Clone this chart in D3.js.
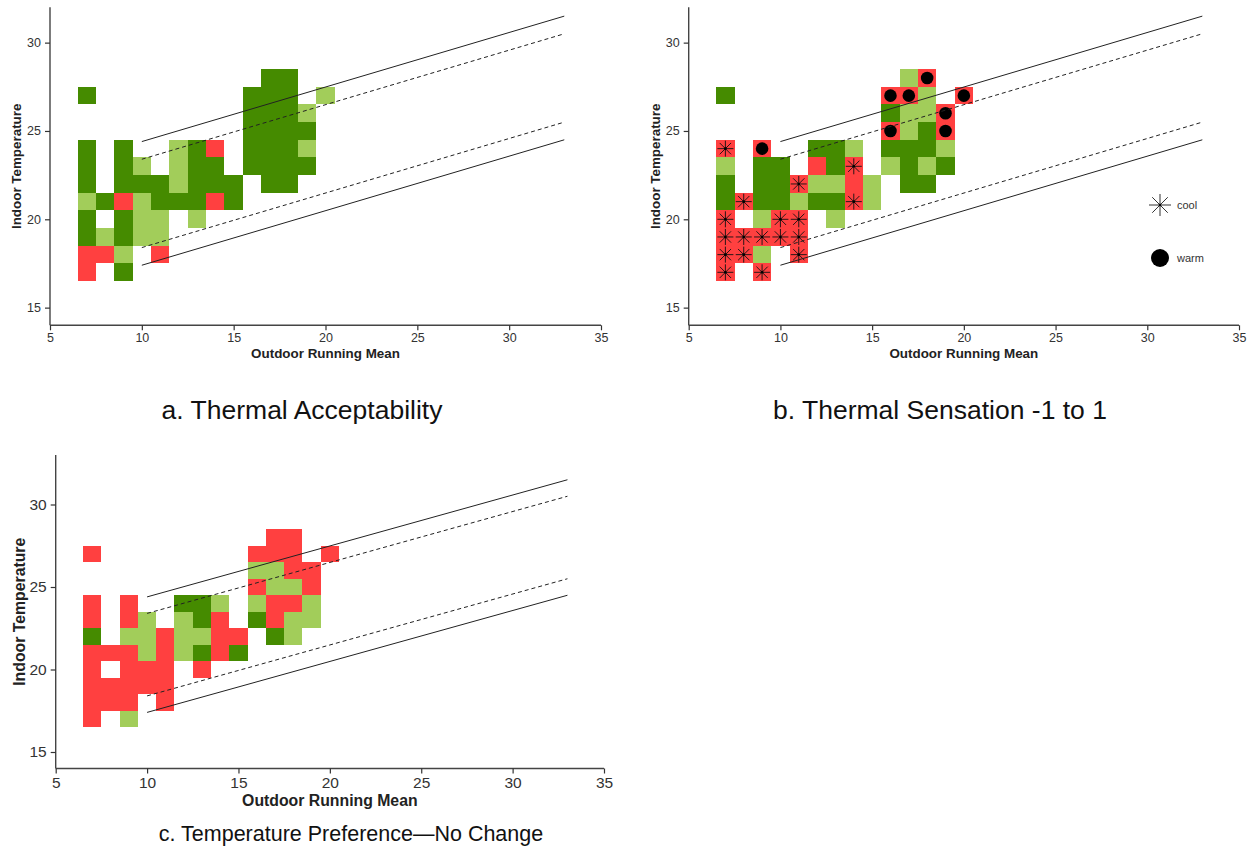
<!DOCTYPE html>
<html>
<head>
<meta charset="utf-8">
<script src="https://cdn.jsdelivr.net/npm/d3@7"></script>
<style>
  html, body { margin: 0; padding: 0; background: #fff; }
  svg { display: block; font-family: "Liberation Sans", Arial, sans-serif; }
</style>
</head>
<body>
<svg id="chart" width="1254" height="852"></svg>
<script>
// ---------- DATA ----------
const xCategories = [7, 8, 9, 10, 11, 12, 13, 14, 15, 16, 17, 18, 19, 20];   // Outdoor running mean bins
const yCategories = [28, 27, 26, 25, 24, 23, 22, 21, 20, 19, 18, 17];        // Indoor temperature bins (top to bottom)
const xTicks = [5, 10, 15, 20, 25, 30, 35];
const yTicks = [15, 20, 25, 30];

// D = mostly acceptable (dark green), L = partly (light green), R = not (red), . = no data
const gridA = [
  "..........DD..",
  "D........DDD.L",
  ".........DDDL.",
  ".........DDDD.",
  "D.D..LDR.DDDL.",
  "D.DL.LDD.DDDD.",
  "D.DDDLDDD.DD..",
  "LDRLDDDRD.....",
  "D.DLL.L.......",
  "DLDLL.........",
  "RRL.R.........",
  "R.D..........."
];
const gridB = [
  "..........LR..",
  "D........RRL.R",
  ".........DLLR.",
  ".........RLDR.",
  "R.R..DDL.DDDL.",
  "L.DD.RDR.LDLD.",
  "D.DDRLLRL.DD..",
  "DRDDLDDRL.....",
  "R.LRR.L.......",
  "RRRRR.........",
  "RRL.R.........",
  "R.R..........."
];
// * = cool, o = warm
const markersB = [
  "...........o..",
  ".........oo..o",
  "............o.",
  ".........o..o.",
  "*.o...........",
  ".......*......",
  "....*.........",
  ".*.....*......",
  "*..**.........",
  "*****.........",
  "**..*.........",
  "*.*..........."
];
const gridC = [
  "..........RR..",
  "R........RRR.R",
  ".........LLRR.",
  ".........RLLR.",
  "R.R..DDL.LRRL.",
  "R.RL.LDR.DRLL.",
  "D.LLRLLRR.DL..",
  "RRRLRLDRD.....",
  "R.RRR.R.......",
  "RRRRR.........",
  "RRR.R.........",
  "R.L..........."
];

// Comfort band lines (endpoints)
const bandX = [10, 33];
const upper80 = [24.4, 31.5];
const upper90 = [23.4, 30.5];
const lower90 = [18.4, 25.5];
const lower80 = [17.4, 24.5];

const legendLabels = ["cool", "warm"];
const titles = ["a. Thermal Acceptability", "b. Thermal Sensation -1 to 1", "c. Temperature Preference\u2014No Change"];

// ---------- STYLE ----------
const colors = { D: "#458B00", L: "#A2CD5A", R: "#FF4040" };

const panels = [
  { grid: gridA, markers: null, left: 50, right: 601, top: 7.3, bottom: 325.3, yDom: [14, 32],
    tickFont: 12.5, axisFont: 13.4, xTitleY: 358, yTitleX: 21, title: titles[0], titleX: 302, titleY: 419, titleFont: 26.5 },
  { grid: gridB, markers: markersB, left: 688.7, right: 1239, top: 7.3, bottom: 325.3, yDom: [14, 32],
    tickFont: 12.5, axisFont: 13.4, xTitleY: 358, yTitleX: 660, title: titles[1], titleX: 940, titleY: 419, titleFont: 26.5 },
  { grid: gridC, markers: null, left: 55.7, right: 604, top: 455, bottom: 768.5, yDom: [14, 33],
    tickFont: 15.5, axisFont: 15.8, xTitleY: 806, yTitleX: 25, title: titles[2], titleX: 351, titleY: 841, titleFont: 21.5 }
];

const svg = d3.select("#chart");

function starPath(cx, cy, r) {
  const d = r * Math.SQRT1_2;
  return `M${cx - r},${cy}L${cx + r},${cy}M${cx},${cy - r}L${cx},${cy + r}` +
         `M${cx - d},${cy - d}L${cx + d},${cy + d}M${cx - d},${cy + d}L${cx + d},${cy - d}`;
}

panels.forEach(p => {
  const x = d3.scaleLinear().domain([5, 35]).range([p.left, p.right]);
  const y = d3.scaleLinear().domain(p.yDom).range([p.bottom, p.top]);
  const g = svg.append("g");

  // cells
  const cells = [];
  p.grid.forEach((row, ri) => {
    row.split("").forEach((c, ci) => {
      if (c !== ".") cells.push({ x: xCategories[ci], y: yCategories[ri], c });
    });
  });
  g.append("g").selectAll("rect").data(cells).join("rect")
    .attr("x", d => x(d.x - 0.5))
    .attr("y", d => y(d.y + 0.5))
    .attr("width", d => x(d.x + 0.5) - x(d.x - 0.5))
    .attr("height", d => y(d.y - 0.5) - y(d.y + 0.5))
    .attr("fill", d => colors[d.c])
    .attr("shape-rendering", "crispEdges");

  // markers
  if (p.markers) {
    const mk = [];
    p.markers.forEach((row, ri) => {
      row.split("").forEach((c, ci) => {
        if (c !== ".") mk.push({ x: xCategories[ci], y: yCategories[ri], c });
      });
    });
    const mg = g.append("g");
    mg.selectAll("path.star").data(mk.filter(d => d.c === "*")).join("path")
      .attr("class", "star")
      .attr("d", d => starPath(x(d.x), y(d.y), 8))
      .attr("stroke", "#111").attr("stroke-width", 0.9).attr("fill", "none");
    mg.selectAll("circle.dotc").data(mk.filter(d => d.c === "*")).join("circle")
      .attr("class", "dotc")
      .attr("cx", d => x(d.x)).attr("cy", d => y(d.y)).attr("r", 1.3).attr("fill", "#000");
    mg.selectAll("circle.warm").data(mk.filter(d => d.c === "o")).join("circle")
      .attr("class", "warm")
      .attr("cx", d => x(d.x)).attr("cy", d => y(d.y)).attr("r", 6.3).attr("fill", "#000");
  }

  // comfort lines
  const bands = [
    { v: upper80, dash: null },
    { v: upper90, dash: "4,3" },
    { v: lower90, dash: "4,3" },
    { v: lower80, dash: null }
  ];
  bands.forEach(b => {
    g.append("path")
      .attr("d", d3.line()(bandX.map((bx, i) => [x(bx), y(b.v[i])])))
      .attr("stroke", "#222").attr("stroke-width", 1).attr("fill", "none")
      .attr("stroke-dasharray", b.dash);
  });

  // axes
  const xAxis = g.append("g").attr("transform", `translate(0,${p.bottom})`)
    .call(d3.axisBottom(x).tickValues(xTicks).tickSize(5).tickPadding(3).tickFormat(d3.format("d")));
  const yAxis = g.append("g").attr("transform", `translate(${p.left},0)`)
    .call(d3.axisLeft(y).tickValues(yTicks).tickSize(5).tickPadding(4).tickFormat(d3.format("d")));
  [xAxis, yAxis].forEach(a => {
    a.select(".domain").attr("stroke", "#444").attr("stroke-width", 1.4);
    a.selectAll(".tick line").attr("stroke", "#333").attr("stroke-width", 1.2);
    a.selectAll(".tick text").attr("fill", "#333").style("font-size", p.tickFont + "px")
      .style("font-family", "'Liberation Sans', Arial, sans-serif");
  });
  xAxis.select(".domain").attr("d", `M${p.left},0H${p.right}`);
  yAxis.select(".domain").attr("d", `M0,${p.top}V${p.bottom}`);

  // axis titles
  g.append("text")
    .attr("x", (p.left + p.right) / 2).attr("y", p.xTitleY)
    .attr("text-anchor", "middle").attr("font-weight", "bold")
    .attr("font-size", p.axisFont).attr("fill", "#222")
    .text("Outdoor Running Mean");
  g.append("text")
    .attr("transform", `translate(${p.yTitleX},${(p.top + p.bottom) / 2}) rotate(-90)`)
    .attr("text-anchor", "middle").attr("font-weight", "bold")
    .attr("font-size", p.axisFont).attr("fill", "#222")
    .text("Indoor Temperature");

  // panel caption
  svg.append("text")
    .attr("x", p.titleX).attr("y", p.titleY)
    .attr("text-anchor", "middle").attr("font-size", p.titleFont).attr("fill", "#111")
    .text(p.title);
});

// legend for panel b
const lg = svg.append("g");
lg.append("path").attr("d", starPath(1160, 205, 11))
  .attr("stroke", "#333").attr("stroke-width", 1).attr("fill", "none");
lg.append("circle").attr("cx", 1160).attr("cy", 205).attr("r", 1.3).attr("fill", "#000");
lg.append("circle").attr("cx", 1160).attr("cy", 258).attr("r", 9).attr("fill", "#000");
lg.selectAll("text").data(legendLabels).join("text")
  .attr("x", 1177).attr("y", (d, i) => i === 0 ? 209 : 262)
  .attr("font-size", 11).attr("fill", "#333").text(d => d);
</script>
</body>
</html>
